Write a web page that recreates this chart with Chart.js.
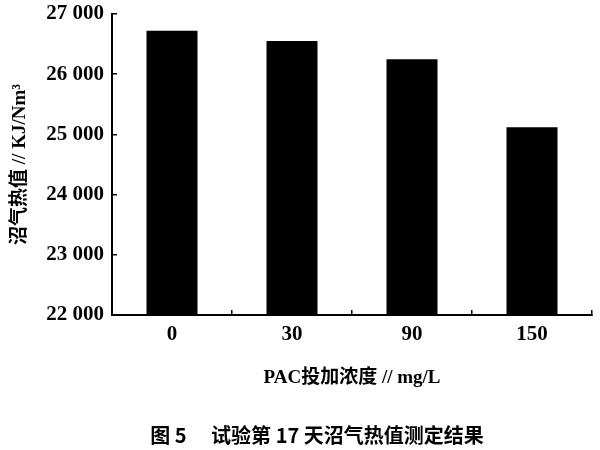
<!DOCTYPE html>
<html>
<head>
<meta charset="utf-8">
<script src="https://cdn.jsdelivr.net/npm/chart.js@4/dist/chart.umd.min.js"></script>
<style>
  html, body { margin: 0; padding: 0; background: #fff; }
  #wrap { width: 600px; height: 450px; position: relative; }
</style>
</head>
<body>
<div id="wrap"><canvas id="c" width="600" height="450"></canvas></div>
<script>
const categories = ['0', '30', '90', '150'];
const biogasHeat = [26720, 26550, 26250, 25120];
const yTickLabels = ['22 000', '23 000', '24 000', '25 000', '26 000', '27 000'];
const xTitle = 'PAC投加浓度 // mg/L';
const yTitle = '沼气热值 // KJ/Nm³';
const caption = '图 5　 试验第 17 天沼气热值测定结果';

const serif = '"Liberation Serif", "Noto Sans CJK SC", serif';

const captionPlugin = {
  id: 'caption',
  afterDraw(chart) {
    const ctx = chart.ctx;
    ctx.save();
    ctx.font = 'bold 20px "Noto Sans CJK SC", sans-serif';
    ctx.fillStyle = '#000';
    ctx.textAlign = 'center';
    ctx.textBaseline = 'middle';
    ctx.fillText(caption, 317, 435);
    ctx.restore();
  }
};

new Chart(document.getElementById('c'), {
  type: 'bar',
  data: {
    labels: categories,
    datasets: [{
      data: biogasHeat,
      backgroundColor: '#000',
      borderWidth: 0,
      categoryPercentage: 1.0,
      barPercentage: 0.425
    }]
  },
  options: {
    responsive: false,
    animation: false,
    devicePixelRatio: 1,
    layout: { padding: { top: 14, right: 8, bottom: 0, left: 0 } },
    plugins: {
      legend: { display: false },
      tooltip: { enabled: false }
    },
    scales: {
      x: {
        grid: {
          offset: true,
          drawOnChartArea: false,
          drawTicks: true,
          tickLength: -5,
          color: '#000',
          lineWidth: 1.5
        },
        border: { display: true, color: '#000', width: 2 },
        ticks: {
          color: '#000',
          padding: 12,
          font: { family: serif, size: 21, weight: 'bold' }
        },
        title: {
          display: true,
          text: xTitle,
          color: '#000',
          font: { family: serif, size: 19, weight: 'bold' },
          padding: { top: 0, bottom: 61 }
        },
        afterFit(scale) { scale.height = 135; }
      },
      y: {
        min: 22000,
        max: 27000,
        ticks: {
          stepSize: 1000,
          color: '#000',
          padding: 13,
          font: { family: serif, size: 21, weight: 'bold' },
          callback: (v, i) => yTickLabels[i]
        },
        grid: {
          drawOnChartArea: false,
          drawTicks: true,
          tickLength: -5,
          color: '#000',
          lineWidth: 1.5
        },
        border: { display: true, color: '#000', width: 2 },
        title: {
          display: true,
          text: yTitle,
          color: '#000',
          font: { family: serif, size: 19, weight: 'bold' },
          padding: { top: 9, bottom: 0 }
        },
        afterFit(scale) {
          scale.width = 112;
          scale.paddingTop = 0;
          scale.paddingBottom = 0;
        }
      }
    }
  },
  plugins: [captionPlugin]
});
</script>
</body>
</html>
